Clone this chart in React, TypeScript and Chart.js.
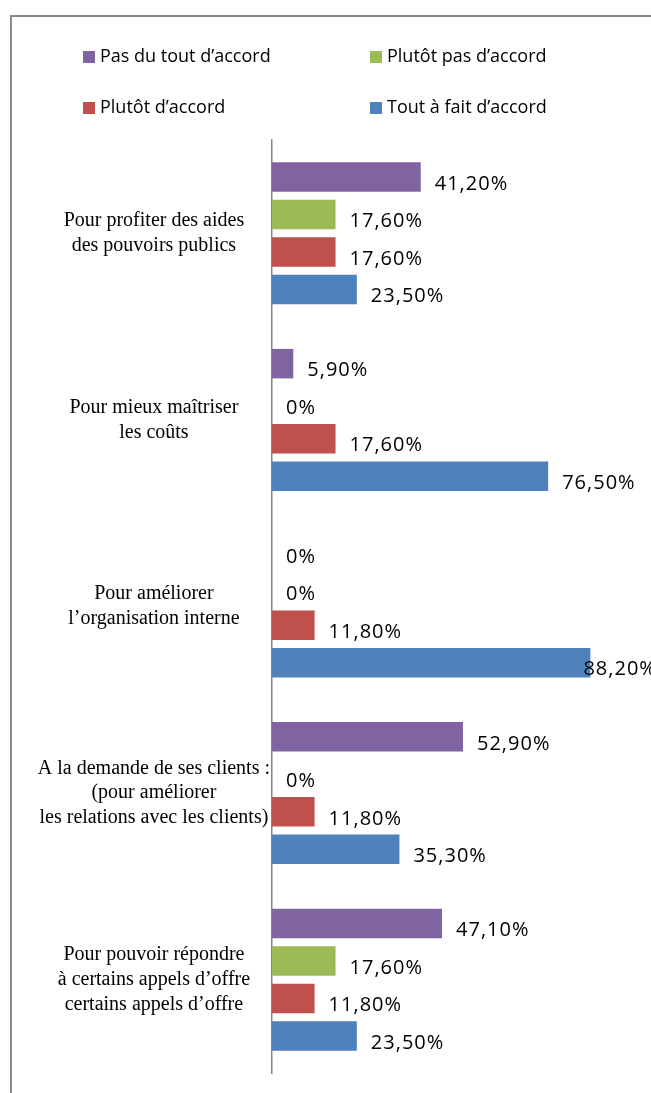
import React, { useEffect, useRef } from "react";
import { Chart, registerables } from "chart.js";

Chart.register(...registerables);

const categories: string[][] = [
  ["Pour profiter des aides", "des pouvoirs publics"],
  ["Pour mieux maîtriser", "les coûts"],
  ["Pour améliorer", "l’organisation interne"],
  ["A la demande de ses clients :", "(pour améliorer", "les relations avec les clients)"],
  ["Pour pouvoir répondre", "à certains appels d’offre", "certains appels d’offre"],
];

const seriesNames = [
  "Pas du tout d’accord",
  "Plutôt pas d’accord",
  "Plutôt d’accord",
  "Tout à fait d’accord",
];

const pasDuTout = [41.2, 5.9, 0, 52.9, 47.1];
const plutotPas = [17.6, 0, 0, 0, 17.6];
const plutotAccord = [17.6, 17.6, 11.8, 11.8, 11.8];
const toutAFait = [23.5, 76.5, 88.2, 35.3, 23.5];

const seriesColors = ["#8064A2", "#9BBB59", "#C0504D", "#4F81BD"];

const fmt = (v: number) => (v === 0 ? "0%" : v.toFixed(2).replace(".", ",") + "%");

const W = 651;
const H = 1093;

const legendPlugin = {
  id: "gridLegend",
  afterDraw(chart: any) {
    const ctx = chart.ctx;
    const cols = [83, 370];
    const rows = [57, 108];
    ctx.save();
    ctx.font = "18px 'Open Sans'";
    ctx.textBaseline = "middle";
    ctx.textAlign = "left";
    chart.data.datasets.forEach((ds: any, i: number) => {
      const x = cols[i % 2];
      const y = rows[Math.floor(i / 2)];
      ctx.fillStyle = ds.backgroundColor;
      ctx.fillRect(x, y - 6, 12, 12);
      ctx.fillStyle = "#000";
      ctx.fillText(ds.label, x + 17, y);
    });
    ctx.restore();
  },
};

const labelPlugin = {
  id: "barValueLabels",
  afterDatasetsDraw(chart: any) {
    const ctx = chart.ctx;
    ctx.save();
    ctx.font = "20px 'Open Sans'";
    (ctx as any).letterSpacing = "1px";
    ctx.textBaseline = "middle";
    ctx.textAlign = "left";
    ctx.fillStyle = "#000";
    chart.data.datasets.forEach((ds: any, di: number) => {
      const meta = chart.getDatasetMeta(di);
      meta.data.forEach((el: any, i: number) => {
        const v = ds.data[i];
        const txt = fmt(v);
        const w = ctx.measureText(txt).width;
        let x = el.x + 14;
        if (x + w > W + 4) x = el.x - 7;
        ctx.fillText(txt, x, el.y + 7);
      });
    });
    ctx.restore();
  },
};

export default function App() {
  const ref = useRef<HTMLCanvasElement | null>(null);
  useEffect(() => {
    if (!ref.current) return;
    const series = [pasDuTout, plutotPas, plutotAccord, toutAFait];
    const chart = new Chart(ref.current, {
      type: "bar",
      data: {
        labels: categories,
        datasets: series.map((d, i) => ({
          label: seriesNames[i],
          data: d,
          backgroundColor: seriesColors[i],
          borderWidth: 0,
          categoryPercentage: 0.804,
          barPercentage: 0.787,
        })),
      },
      options: {
        indexAxis: "y",
        responsive: false,
        animation: false,
        devicePixelRatio: 1,
        layout: { padding: { top: 140, bottom: 20, left: 10, right: 18 } },
        plugins: {
          legend: { display: false },
          tooltip: { enabled: false },
        },
        scales: {
          x: { display: false, min: 0, max: 100 },
          y: {
            border: { display: true, color: "#868686", width: 1.5 },
            grid: { display: true, drawOnChartArea: false, drawTicks: false },
            ticks: {
              color: "#000",
              crossAlign: "center",
              padding: 2,
              font: { family: "'Liberation Serif'", size: 20, lineHeight: 1.24 },
            },
            afterFit: (s: any) => {
              s.width = 262;
              s.paddingTop = 0;
              s.paddingBottom = 0;
            },
          },
        },
      },
      plugins: [legendPlugin, labelPlugin],
    } as any);
    return () => chart.destroy();
  }, []);

  return (
    <div style={{ position: "fixed", left: 0, top: 0, width: W, height: H, background: "#fff", overflow: "hidden" }}>
      <div
        style={{
          position: "absolute",
          left: 10,
          top: 15,
          width: 700,
          height: 1200,
          border: "2px solid #8a8a8a",
          boxSizing: "border-box",
        }}
      />
      <canvas ref={ref} width={W} height={H} style={{ position: "absolute", left: 0, top: 0 }} />
    </div>
  );
}
